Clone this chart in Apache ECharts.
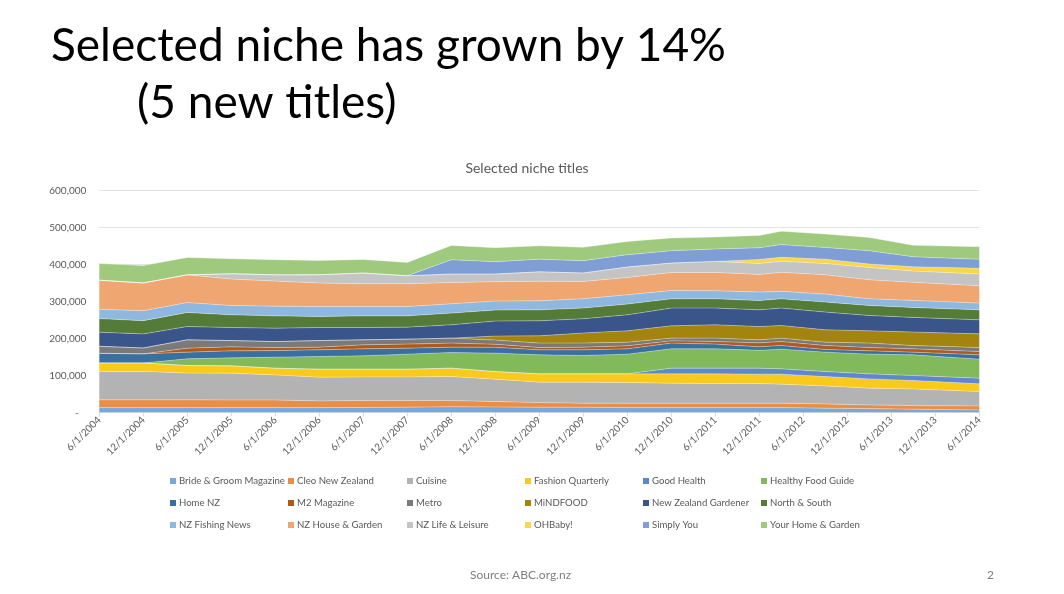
<!DOCTYPE html>
<html>
<head>
<meta charset="utf-8">
<script src="https://cdn.jsdelivr.net/npm/echarts@6/dist/echarts.min.js"></script>
<style>
html,body{margin:0;padding:0;background:#fff;}
#chart{width:1064px;height:594px;}
</style>
</head>
<body>
<div id="chart"></div>
<script>
const dates = ['6/1/2004','12/1/2004','6/1/2005','12/1/2005','6/1/2006','12/1/2006','6/1/2007','12/1/2007',
  '6/1/2008','12/1/2008','6/1/2009','12/1/2009','6/1/2010','12/1/2010','6/1/2011','12/1/2011',
  '3/1/2012','9/1/2012','3/1/2013','9/1/2013','6/1/2014'];

const brideGroom = [12700,12700,12700,12700,12700,12700,13000,14000,15000,14600,13800,13800,12700,12700,12700,12700,12700,11100,10000,8500,6500];
const cleo = [21000,21000,21000,20600,20600,18200,18700,17700,16700,14400,12500,10900,12000,12000,12000,12000,12000,11700,10100,9700,10800];
const cuisine = [77000,77000,72400,72700,68000,64200,64200,64200,65000,60700,55300,56900,55800,54200,53100,53100,51500,48700,45200,45200,38800];
const fashionQuarterly = [23000,23000,20600,19700,18100,21700,20900,20900,22800,20600,22500,22500,23600,25200,26300,25500,27100,25200,25200,22600,20900];
const goodHealth = [0,0,0,0,0,0,0,0,0,0,0,0,0,15400,15400,16200,14300,13600,13600,13500,15400];
const healthyFood = [0,0,18000,21700,29800,34200,36000,40700,42300,49900,51500,49600,53400,52300,52300,48500,53400,52600,53400,56100,51500];
const homeNZ = [26000,24500,18200,19000,17900,18100,19000,16200,14600,15800,13500,15400,14300,15500,12800,9200,9800,7100,8900,7300,11700];
const m2 = [0,0,10800,10800,8100,7300,10900,10900,10900,8200,6200,7300,8100,6200,7000,10800,10800,10800,8900,8900,8900];
const metro = [19000,16000,22500,17100,16300,17900,13500,13500,13500,11400,12000,11100,10100,7300,9300,8100,9200,9200,12000,9000,10800];
const mindfood = [0,0,0,0,0,0,0,0,0,10800,19700,27300,30600,33300,36100,36100,34200,33300,33300,36500,37200];
const nzGardener = [38000,38000,36000,35200,36300,35200,33300,32500,36100,40700,40700,38500,43300,48000,45200,45200,47100,48000,41500,39600,37900];
const northSouth = [37000,36000,38000,34500,33300,29800,31700,30600,31700,29800,29800,29000,29000,25200,25200,25200,25200,27100,27100,26900,27100];
const fishingNews = [25000,27000,27000,25200,26300,27100,25200,25200,25200,24400,24400,25200,25300,22500,21700,22800,20200,21600,18100,19200,18200];
const houseGarden = [79000,75000,75000,71500,67800,63600,61600,61600,57700,52300,52900,46900,46800,48800,49600,47900,51500,52200,51500,48800,46800];
const lifeLeisure = [0,0,0,14400,17100,22400,29000,21600,22800,20800,25500,22800,28200,25400,29800,29800,29800,30600,33300,30600,31800];
const ohBaby = [0,0,0,0,0,0,0,0,0,0,0,0,0,0,0,10800,10800,11900,9300,11700,15600];
const simplyYou = [0,0,0,0,0,0,0,0,38700,33400,34100,33400,33400,33400,33900,31500,34500,31500,36100,27000,24400];
const yourHomeGarden = [45000,47000,47000,40700,40600,38700,36800,36100,38800,38000,36300,36100,36000,34400,32200,33600,36300,36300,36000,31000,34200];

const seriesNames = ['Bride & Groom Magazine','Cleo New Zealand','Cuisine','Fashion Quarterly','Good Health','Healthy Food Guide',
  'Home NZ','M2 Magazine','Metro','MiNDFOOD','New Zealand Gardener','North & South',
  'NZ Fishing News','NZ House & Garden','NZ Life & Leisure','OHBaby!','Simply You','Your Home & Garden'];
const seriesValues = [brideGroom,cleo,cuisine,fashionQuarterly,goodHealth,healthyFood,homeNZ,m2,metro,mindfood,
  nzGardener,northSouth,fishingNews,houseGarden,lifeLeisure,ohBaby,simplyYou,yourHomeGarden];
const seriesColors = ['#76A8DB','#EA8D45','#B3B3B3','#F9C91B','#5F87CF','#82B95A',
  '#3A70A0','#AE5A1A','#7A7A7A','#A3840F','#39558A','#557B38',
  '#8FB8E0','#EFA670','#C4C4C4','#FBD64A','#7F9ED6','#9FCA7E'];

// monthly date axis (like a spreadsheet date axis) from first to last date
function parseDate(d){ const p = d.split('/'); return { m: parseInt(p[0]), y: parseInt(p[2]) }; }
const first = parseDate(dates[0]), last = parseDate(dates[dates.length - 1]);
const months = [];
for (let t = first.y * 12 + first.m - 1; t <= last.y * 12 + last.m - 1; t++) {
  months.push((t % 12 + 1) + '/1/' + Math.floor(t / 12));
}

const FONT = 'Lato';
const chart = echarts.init(document.getElementById('chart'));

const series = seriesNames.map((name, k) => ({
  name: name,
  type: 'line',
  stack: 'total',
  symbol: 'none',
  itemStyle: { color: seriesColors[k] },
  lineStyle: { width: 0.6, color: 'rgba(255,255,255,0.55)' },
  areaStyle: { color: seriesColors[k], opacity: 1 },
  emphasis: { disabled: true },
  data: dates.map((d, i) => [d, seriesValues[k][i]])
}));

const colX = [173, 291, 410, 528, 646, 764];
const legends = colX.map((x, c) => ({
  orient: 'vertical',
  left: x - 3,
  top: 474,
  padding: 0,
  itemGap: 8,
  itemWidth: 6,
  itemHeight: 6,
  icon: 'rect',
  selectedMode: false,
  textStyle: { fontSize: 9.6, color: '#595959', fontFamily: FONT, lineHeight: 14, padding: [0,0,0,-2] },
  data: [seriesNames[c], seriesNames[c + 6], seriesNames[c + 12]]
}));

chart.setOption({
  animation: false,
  textStyle: { fontFamily: FONT },
  title: {
    text: 'Selected niche titles',
    left: 522,
    textAlign: 'center',
    top: 156,
    textStyle: { fontSize: 14, fontWeight: 'normal', color: '#595959', fontFamily: FONT }
  },
  legend: legends,
  grid: { left: 99.3, right: 84.7, top: 190.7, bottom: 181.7, containLabel: false },
  xAxis: {
    type: 'category',
    data: months,
    boundaryGap: false,
    splitLine: { show: false },
    axisLine: { lineStyle: { color: '#D9D9D9' } },
    axisTick: { show: true, interval: 5, length: 4, lineStyle: { color: '#D9D9D9' } },
    axisLabel: { interval: 5, rotate: 45, fontSize: 10, color: '#595959', margin: 6, fontFamily: FONT }
  },
  yAxis: {
    type: 'value',
    min: 0, max: 600000, interval: 100000,
    axisLine: { show: false },
    axisTick: { show: false },
    splitLine: { lineStyle: { color: '#E3E3E3' } },
    axisLabel: { fontSize: 10, color: '#595959', margin: 13, fontFamily: FONT,
      formatter: v => v === 0 ? '-   ' : v.toLocaleString('en-US') }
  },
  graphic: [
    { type: 'text', left: 51, top: 23, style: { text: 'Selected niche has grown by 14%', font: '46px Lato', fill: '#000' } },
    { type: 'text', left: 137, top: 80, style: { text: '(5 new titles)', font: '46px Lato', fill: '#000' } },
    { type: 'text', left: 470, top: 569, style: { text: 'Source: ABC.org.nz', font: '12px Lato', fill: '#7F7F7F' } },
    { type: 'text', left: 987, top: 569, style: { text: '2', font: '12px Lato', fill: '#7F7F7F' } }
  ],
  series: series
});
</script>
</body>
</html>
